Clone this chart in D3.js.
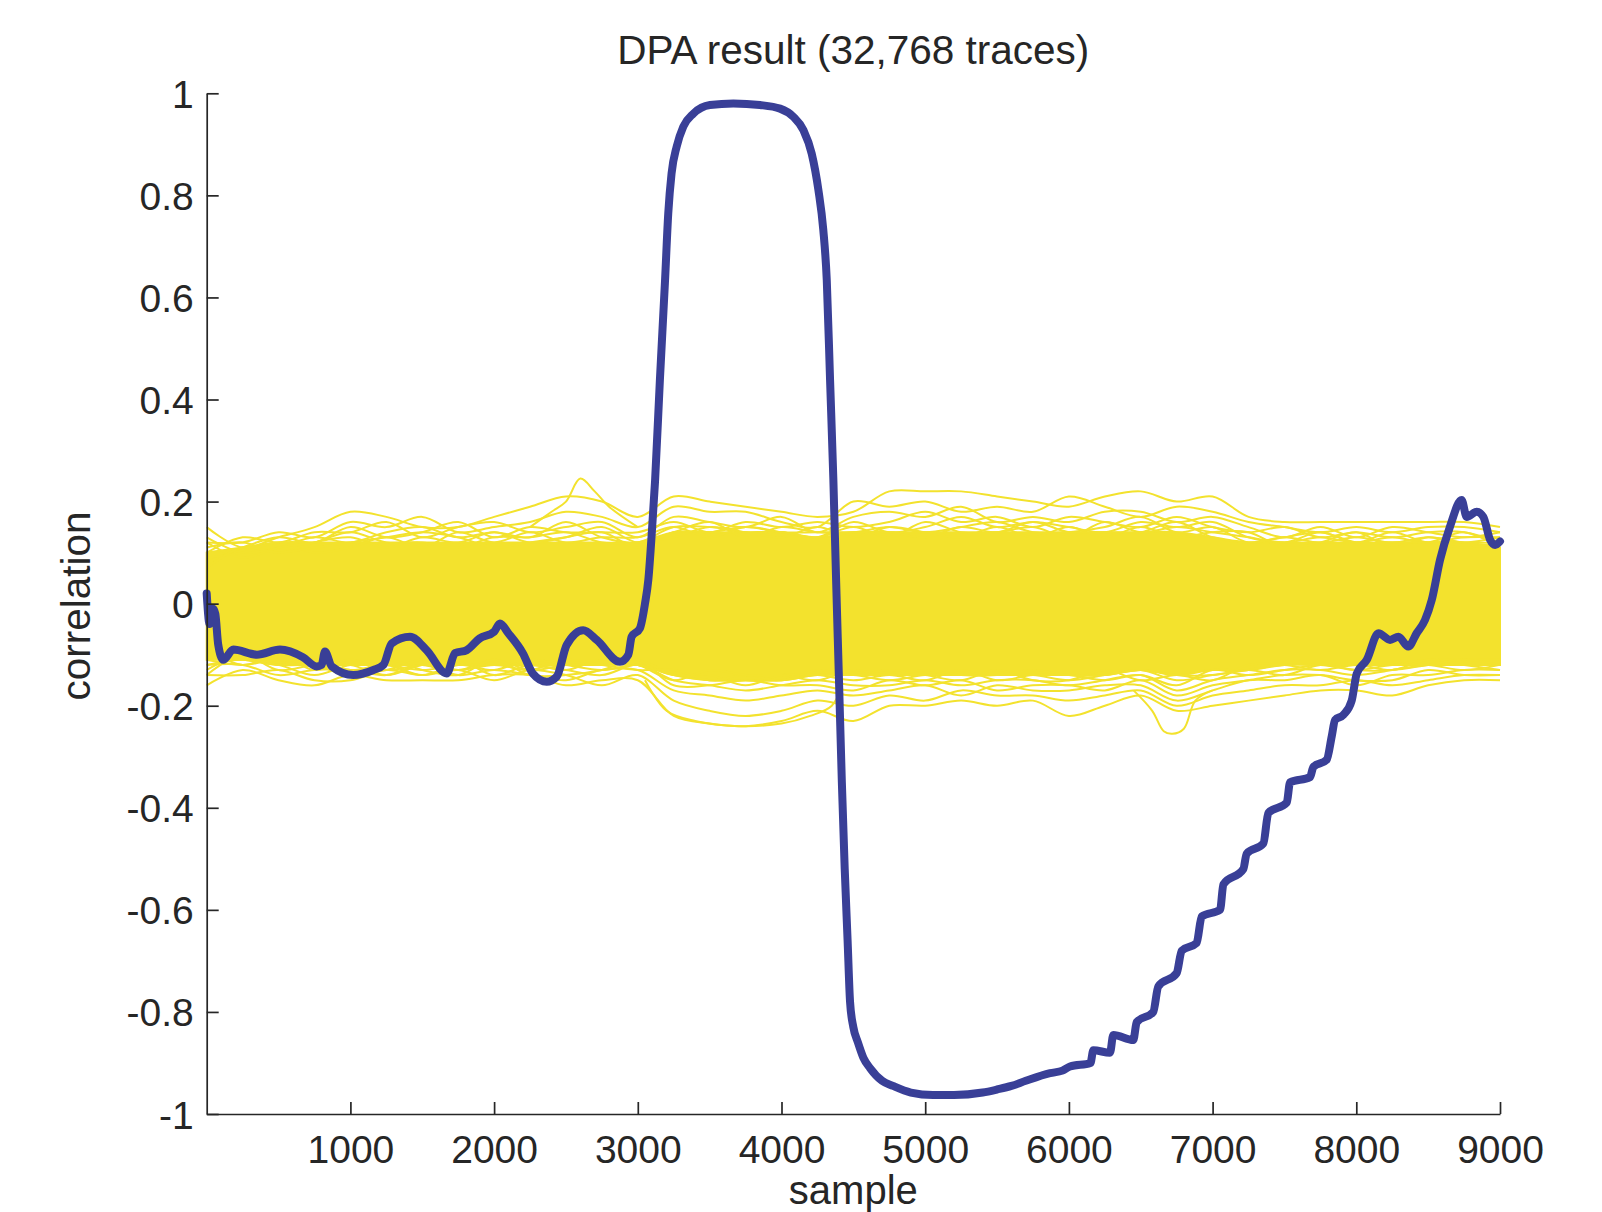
<!DOCTYPE html>
<html>
<head>
<meta charset="utf-8">
<title>DPA result</title>
<script src="https://cdn.jsdelivr.net/npm/d3@7"></script>
<style>
  body { margin: 0; background: #fff; }
  svg { display: block; font-family: "Liberation Sans", Arial, Helvetica, sans-serif; }
</style>
</head>
<body>
<svg id="chart" width="1602" height="1212"></svg>
<script>
// ---- data ----

const titleText = "DPA result (32,768 traces)";
const xLabel = "sample";
const yLabel = "correlation";

const xTicks = [1000, 2000, 3000, 4000, 5000, 6000, 7000, 8000, 9000];
const yTicks = [-1, -0.8, -0.6, -0.4, -0.2, 0, 0.2, 0.4, 0.6, 0.8, 1];
const yTickLabels = ["-1", "-0.8", "-0.6", "-0.4", "-0.2", "0", "0.2", "0.4", "0.6", "0.8", "1"];

// correct key guess (blue)
const keySamples = [0, 20, 45, 60, 80, 115, 185, 350, 510, 670, 765, 800, 823, 870, 1020, 1160, 1230, 1287,
    1415, 1530, 1670, 1728, 1810, 1900, 2000, 2041, 2099, 2200, 2270, 2366, 2436, 2505, 2620, 2714, 2876,
    2934, 2957, 3015, 3050, 3073, 3100, 3120, 3154, 3189, 3212, 3235, 3271, 3317, 3386, 3502, 3665, 3850,
    3990, 4082, 4152, 4210, 4257, 4291, 4315, 4338, 4361, 4380, 4400, 4420, 4440, 4460, 4477, 4500, 4532,
    4570, 4616, 4700, 4776, 4900, 5054, 5200, 5400, 5500, 5600, 5700, 5869, 5955, 6008, 6150, 6170, 6286,
    6309, 6448, 6472, 6587, 6622, 6750, 6785, 6889, 6924, 7052, 7075, 7214, 7237, 7353, 7388, 7516, 7539,
    7678, 7701, 7794, 7829, 7852, 7910, 7968, 8003, 8073, 8154, 8235, 8293, 8362, 8420, 8478, 8525, 8583,
    8652, 8733, 8768, 8838, 8884, 8931, 8966, 9000];
const keyValues = [0.02, -0.04, -0.01, -0.02, -0.08, -0.11, -0.09, -0.10, -0.09, -0.105, -0.123, -0.12, -0.094,
    -0.123, -0.14, -0.13, -0.12, -0.078, -0.065, -0.091, -0.137, -0.097, -0.091, -0.068, -0.055, -0.039,
    -0.058, -0.097, -0.137, -0.153, -0.143, -0.081, -0.052, -0.071, -0.114, -0.10, -0.065, -0.048, 0.00,
    0.046, 0.15, 0.24, 0.44, 0.63, 0.765, 0.843, 0.896, 0.935, 0.96, 0.977, 0.98, 0.977, 0.97, 0.954,
    0.928, 0.882, 0.81, 0.732, 0.634, 0.438, 0.242, 0.046, -0.15, -0.35, -0.52, -0.66, -0.78, -0.83,
    -0.86, -0.89, -0.91, -0.935, -0.945, -0.958, -0.963, -0.963, -0.958, -0.952, -0.945, -0.935, -0.92,
    -0.915, -0.907, -0.90, -0.875, -0.88, -0.845, -0.855, -0.82, -0.80, -0.75, -0.724, -0.68, -0.665,
    -0.613, -0.60, -0.55, -0.52, -0.49, -0.47, -0.41, -0.39, -0.35, -0.34, -0.32, -0.306, -0.26, -0.228,
    -0.218, -0.19, -0.137, -0.11, -0.058, -0.071, -0.065, -0.084, -0.058, -0.032, 0.007, 0.086, 0.151,
    0.203, 0.17, 0.18, 0.17, 0.125, 0.115, 0.122];

// wrong key guesses (yellow), read every 250 samples
const gridSamples = [0, 250, 500, 750, 1000, 1250, 1500, 1750, 2000, 2250, 2500, 2750, 3000, 3250, 3500,
    3750, 4000, 4250, 4500, 4750, 5000, 5250, 5500, 5750, 6000, 6250, 6500, 6750, 7000, 7250, 7500, 7750,
    8000, 8250, 8500, 8750, 9000];

// dense part of the band
const coreHigh = [0.10, 0.11, 0.12, 0.12, 0.12, 0.12, 0.12, 0.12, 0.12, 0.12, 0.12, 0.12, 0.12, 0.14, 0.14,
    0.14, 0.14, 0.13, 0.14, 0.14, 0.14, 0.14, 0.14, 0.14, 0.14, 0.14, 0.14, 0.14, 0.13, 0.12, 0.12, 0.12,
    0.12, 0.12, 0.12, 0.12, 0.11];
const coreLow = [-0.11, -0.11, -0.12, -0.12, -0.12, -0.12, -0.12, -0.12, -0.12, -0.12, -0.12, -0.12, -0.12,
    -0.14, -0.15, -0.15, -0.15, -0.14, -0.14, -0.14, -0.14, -0.14, -0.14, -0.14, -0.14, -0.14, -0.13, -0.14,
    -0.13, -0.13, -0.12, -0.12, -0.12, -0.12, -0.12, -0.12, -0.12];

// single traces sticking out of the band
const upperTraces = [
    [0.15, 0.11, 0.13, 0.15, 0.18, 0.17, 0.15, 0.15, 0.17, 0.19, 0.21, 0.20, 0.17, 0.21, 0.20, 0.19, 0.18, 0.17,
        0.18, 0.22, 0.22, 0.22, 0.21, 0.20, 0.19, 0.21, 0.22, 0.20, 0.21, 0.17, 0.16, 0.16, 0.16, 0.16, 0.16, 0.16, 0.15],
    [0.12, 0.12, 0.14, 0.13, 0.16, 0.15, 0.17, 0.14, 0.15, 0.16, 0.18, 0.17, 0.15, 0.19, 0.18, 0.18, 0.16, 0.15,
        0.20, 0.19, 0.20, 0.18, 0.19, 0.18, 0.21, 0.19, 0.17, 0.19, 0.18, 0.16, 0.15, 0.14, 0.15, 0.14, 0.15, 0.15, 0.14],
    [0.10, 0.13, 0.12, 0.14, 0.14, 0.16, 0.13, 0.15, 0.16, 0.14, 0.15, 0.16, 0.13, 0.17, 0.16, 0.15, 0.17, 0.14,
        0.17, 0.18, 0.17, 0.19, 0.16, 0.17, 0.16, 0.18, 0.18, 0.16, 0.17, 0.15, 0.13, 0.15, 0.13, 0.15, 0.14, 0.13, 0.14],
    [0.08, 0.11, 0.13, 0.12, 0.15, 0.13, 0.14, 0.16, 0.13, 0.15, 0.14, 0.14, 0.14, 0.16, 0.14, 0.16, 0.15, 0.16,
        0.15, 0.16, 0.18, 0.16, 0.17, 0.15, 0.17, 0.16, 0.15, 0.17, 0.15, 0.14, 0.15, 0.13, 0.14, 0.13, 0.14, 0.14, 0.12],
    [0.13, 0.10, 0.11, 0.13, 0.12, 0.14, 0.15, 0.13, 0.14, 0.13, 0.16, 0.13, 0.12, 0.15, 0.15, 0.14, 0.14, 0.13,
        0.16, 0.14, 0.15, 0.17, 0.15, 0.16, 0.15, 0.14, 0.16, 0.15, 0.16, 0.13, 0.12, 0.14, 0.12, 0.14, 0.12, 0.13, 0.13],
    [0.11, 0.12, 0.10, 0.12, 0.13, 0.11, 0.13, 0.12, 0.14, 0.12, 0.13, 0.15, 0.12, 0.14, 0.16, 0.13, 0.15, 0.14,
        0.14, 0.15, 0.14, 0.15, 0.16, 0.14, 0.14, 0.15, 0.17, 0.14, 0.15, 0.12, 0.13, 0.12, 0.13, 0.12, 0.13, 0.12, 0.12],
    [0.09, 0.10, 0.12, 0.10, 0.11, 0.13, 0.11, 0.14, 0.12, 0.14, 0.12, 0.13, 0.13, 0.15, 0.13, 0.15, 0.14, 0.13,
        0.15, 0.13, 0.16, 0.14, 0.14, 0.15, 0.13, 0.16, 0.14, 0.15, 0.14, 0.13, 0.12, 0.13, 0.12, 0.13, 0.12, 0.14, 0.11],
    [0.12, 0.09, 0.11, 0.12, 0.14, 0.12, 0.12, 0.11, 0.13, 0.13, 0.14, 0.12, 0.12, 0.13, 0.15, 0.14, 0.13, 0.15,
        0.13, 0.15, 0.14, 0.13, 0.15, 0.13, 0.15, 0.13, 0.15, 0.13, 0.14, 0.14, 0.11, 0.12, 0.14, 0.11, 0.13, 0.12, 0.13],
    [0.07, 0.11, 0.10, 0.11, 0.12, 0.13, 0.14, 0.13, 0.11, 0.12, 0.13, 0.14, 0.11, 0.14, 0.14, 0.15, 0.14, 0.14,
        0.14, 0.14, 0.13, 0.15, 0.14, 0.16, 0.14, 0.14, 0.14, 0.16, 0.13, 0.12, 0.13, 0.14, 0.12, 0.12, 0.12, 0.11, 0.12]
];
const lowerTraces = [
    [-0.16, -0.13, -0.15, -0.16, -0.14, -0.15, -0.15, -0.15, -0.14, -0.14, -0.16, -0.15, -0.15, -0.22, -0.235,
        -0.24, -0.23, -0.21, -0.23, -0.20, -0.20, -0.19, -0.20, -0.19, -0.22, -0.20, -0.18, -0.21, -0.20, -0.19,
        -0.18, -0.17, -0.17, -0.18, -0.16, -0.15, -0.15],
    [-0.14, -0.14, -0.13, -0.15, -0.15, -0.13, -0.14, -0.13, -0.15, -0.13, -0.14, -0.16, -0.14, -0.19, -0.21,
        -0.22, -0.21, -0.19, -0.20, -0.18, -0.19, -0.17, -0.18, -0.18, -0.19, -0.18, -0.17, -0.20, -0.18, -0.17,
        -0.16, -0.16, -0.15, -0.16, -0.15, -0.14, -0.14],
    [-0.12, -0.12, -0.14, -0.13, -0.13, -0.14, -0.12, -0.14, -0.13, -0.14, -0.15, -0.13, -0.13, -0.17, -0.18,
        -0.19, -0.18, -0.17, -0.18, -0.17, -0.16, -0.18, -0.16, -0.17, -0.17, -0.16, -0.16, -0.19, -0.17, -0.15,
        -0.15, -0.14, -0.16, -0.14, -0.14, -0.13, -0.13],
    [-0.11, -0.11, -0.12, -0.14, -0.12, -0.12, -0.13, -0.12, -0.12, -0.12, -0.13, -0.14, -0.12, -0.15, -0.16,
        -0.17, -0.16, -0.15, -0.16, -0.16, -0.15, -0.16, -0.15, -0.15, -0.16, -0.15, -0.14, -0.17, -0.15, -0.14,
        -0.13, -0.13, -0.14, -0.13, -0.12, -0.12, -0.12],
    [-0.13, -0.10, -0.11, -0.12, -0.13, -0.13, -0.11, -0.13, -0.11, -0.13, -0.12, -0.12, -0.11, -0.14, -0.15,
        -0.15, -0.15, -0.14, -0.14, -0.15, -0.14, -0.14, -0.14, -0.14, -0.15, -0.14, -0.13, -0.15, -0.14, -0.13,
        -0.12, -0.12, -0.12, -0.12, -0.11, -0.11, -0.11],
    [-0.12, -0.11, -0.12, -0.11, -0.13, -0.12, -0.14, -0.12, -0.13, -0.11, -0.12, -0.13, -0.12, -0.14, -0.14,
        -0.16, -0.14, -0.14, -0.15, -0.14, -0.15, -0.13, -0.15, -0.14, -0.14, -0.15, -0.14, -0.16, -0.13, -0.14,
        -0.13, -0.12, -0.13, -0.12, -0.12, -0.13, -0.12],
    [-0.09, -0.12, -0.10, -0.13, -0.11, -0.13, -0.12, -0.13, -0.12, -0.13, -0.11, -0.12, -0.13, -0.13, -0.15,
        -0.14, -0.15, -0.13, -0.14, -0.13, -0.14, -0.15, -0.13, -0.15, -0.15, -0.13, -0.15, -0.14, -0.15, -0.12,
        -0.12, -0.13, -0.12, -0.13, -0.11, -0.12, -0.13],
    [-0.14, -0.10, -0.13, -0.12, -0.12, -0.14, -0.12, -0.11, -0.14, -0.12, -0.13, -0.11, -0.12, -0.15, -0.13,
        -0.14, -0.14, -0.15, -0.13, -0.14, -0.13, -0.14, -0.14, -0.13, -0.14, -0.14, -0.13, -0.14, -0.14, -0.13,
        -0.14, -0.12, -0.13, -0.13, -0.12, -0.11, -0.12],
    [-0.11, -0.12, -0.11, -0.12, -0.14, -0.11, -0.13, -0.14, -0.11, -0.14, -0.14, -0.13, -0.11, -0.16, -0.16,
        -0.15, -0.16, -0.16, -0.17, -0.15, -0.16, -0.15, -0.17, -0.16, -0.16, -0.17, -0.15, -0.18, -0.16, -0.15,
        -0.14, -0.14, -0.15, -0.15, -0.13, -0.14, -0.14]
];

// a few local outliers with their own sample points
const spikeSamples = [2250, 2400, 2500, 2600, 2700, 2800, 3000];
const spikeValues = [0.15, 0.18, 0.20, 0.245, 0.22, 0.19, 0.15];
const dipSamples = [6450, 6580, 6660, 6720, 6800, 6880, 7000];
const dipValues = [-0.17, -0.21, -0.25, -0.255, -0.245, -0.19, -0.17];
const troughSamples = [3050, 3200, 3400, 3700, 4000, 4200, 4350, 4420];
const troughValues = [-0.15, -0.21, -0.23, -0.24, -0.235, -0.22, -0.20, -0.16];

// ---- chart ----

/** Draws the correlation traces of every key guess. */
class CorrelationPlot {
    /**
     * @param svgId id of the svg element
     */
    constructor(svgId) {
        this.svg = d3.select("#" + svgId);
        this.ink = "#262626";
        this.yellow = "#f3e22d";
        this.blue = "#393f97";

        this.x = d3.scaleLinear().domain([0, 9000]).range([206.7, 1500]);
        this.y = d3.scaleLinear().domain([-1, 1]).range([1114, 93.3]);
    }

    /** Makes point objects from a sample array and a value array. */
    points(samples, values) {
        return samples.map((s, i) => ({ s: s, v: values[i] }));
    }

    drawTraces() {
        let self = this;
        let line = d3.line()
            .x(d => self.x(d.s))
            .y(d => self.y(d.v))
            .curve(d3.curveCatmullRom.alpha(0.5));

        let band = d3.area()
            .x((d, i) => self.x(gridSamples[i]))
            .y0(d => self.y(d[0]))
            .y1(d => self.y(d[1]))
            .curve(d3.curveCatmullRom.alpha(0.5));

        let g = this.svg.append("g").attr("class", "wrong-keys");

        g.append("path")
            .datum(coreLow.map((lo, i) => [lo, coreHigh[i]]))
            .attr("d", band)
            .attr("fill", this.yellow)
            .attr("stroke", this.yellow)
            .attr("stroke-width", 2);

        let traces = upperTraces.concat(lowerTraces)
            .map(vals => self.points(gridSamples, vals));
        traces.push(self.points(spikeSamples, spikeValues));
        traces.push(self.points(dipSamples, dipValues));
        traces.push(self.points(troughSamples, troughValues));

        g.selectAll("path.trace")
            .data(traces).enter().append("path")
            .attr("class", "trace")
            .attr("d", line)
            .attr("fill", "none")
            .attr("stroke", this.yellow)
            .attr("stroke-width", 2);
    }

    drawKey() {
        let self = this;
        let line = d3.line()
            .x(d => self.x(d.s))
            .y(d => self.y(d.v))
            .curve(d3.curveMonotoneX);

        this.svg.append("path")
            .datum(this.points(keySamples, keyValues))
            .attr("d", line)
            .attr("fill", "none")
            .attr("stroke", this.blue)
            .attr("stroke-width", 8)
            .attr("stroke-linejoin", "round")
            .attr("stroke-linecap", "round");
    }

    drawAxes() {
        let yAxis = d3.axisLeft(this.y)
            .tickValues(yTicks)
            .tickFormat((d, i) => yTickLabels[i])
            .tickSizeInner(-12)
            .tickSizeOuter(0)
            .tickPadding(13);

        let xAxis = d3.axisBottom(this.x)
            .tickValues(xTicks)
            .tickFormat(d => String(d))
            .tickSizeInner(-12)
            .tickSizeOuter(0)
            .tickPadding(21);

        let gy = this.svg.append("g")
            .attr("transform", "translate(" + this.x(0) + ",0)")
            .call(yAxis);
        let gx = this.svg.append("g")
            .attr("transform", "translate(0," + this.y(-1) + ")")
            .call(xAxis);

        [gx, gy].forEach(g => {
            g.attr("font-size", 39)
                .attr("font-family", null)
                .style("color", this.ink);
            g.selectAll("path, line").attr("stroke-width", 1.7);
        });
        gy.selectAll("text").attr("dy", "0.36em");
    }

    drawLabels() {
        let cx = (this.x.range()[0] + this.x.range()[1]) / 2;

        this.svg.append("text")
            .attr("x", cx)
            .attr("y", 63.5)
            .attr("text-anchor", "middle")
            .attr("font-size", 40.5)
            .attr("fill", this.ink)
            .text(titleText);

        this.svg.append("text")
            .attr("x", cx)
            .attr("y", 1203.5)
            .attr("text-anchor", "middle")
            .attr("font-size", 40)
            .attr("fill", this.ink)
            .text(xLabel);

        this.svg.append("text")
            .attr("transform", "translate(90,606) rotate(-90)")
            .attr("text-anchor", "middle")
            .attr("font-size", 40.5)
            .attr("fill", this.ink)
            .text(yLabel);
    }

    draw() {
        this.drawTraces();
        this.drawKey();
        this.drawAxes();
        this.drawLabels();
    }
}

new CorrelationPlot("chart").draw();
</script>
</body>
</html>
